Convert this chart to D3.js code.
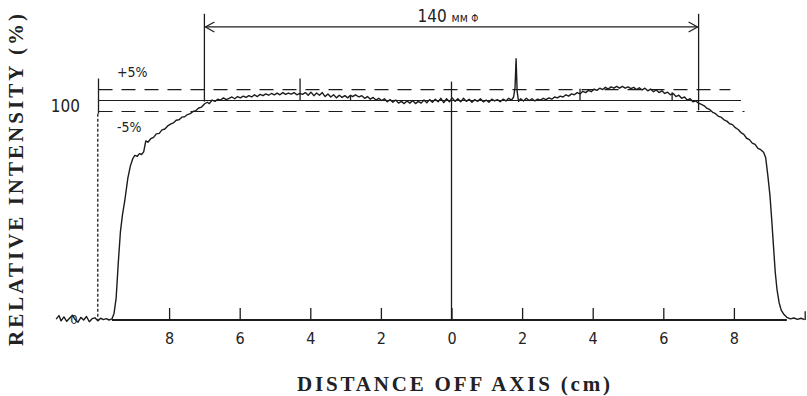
<!DOCTYPE html>
<html>
<head>
<meta charset="utf-8">
<script src="https://cdn.jsdelivr.net/npm/d3@7"></script>
<style>
  html, body { margin: 0; padding: 0; background: #fff; }
  svg { display: block; }
  .num { font-family: "Liberation Sans Narrow", "DejaVu Sans Condensed", "Liberation Sans", sans-serif; fill: #222; }
  .title { font-family: "Liberation Serif", "DejaVu Serif", serif; font-weight: bold; fill: #222; }
</style>
</head>
<body>
<svg id="chart" width="807" height="396"></svg>
<script>
// beam profile: [distance off axis (cm), relative intensity (%)]
const profile = [
  [-11.20, 0.4], [-11.12, 2.0], [-11.06, -0.4], [-10.98, 1.4], [-10.90, -0.6], [-10.82, 0.8],
  [-10.74, 2.2], [-10.66, 0.2], [-10.58, -1.0], [-10.50, 1.2], [-10.42, 0.0], [-10.34, 1.6],
  [-10.26, -0.8], [-10.18, 0.6], [-10.10, 1.0], [-10.02, -0.4], [-9.94, 0.8], [-9.86, 0.2],
  [-9.78, 0.6], [-9.70, 0.0], [-9.62, 0.5],
  [-9.56, 3], [-9.50, 10], [-9.44, 26], [-9.38, 40], [-9.32, 48], [-9.25, 55], [-9.17, 64.5],
  [-9.10, 70], [-9.03, 73.5], [-8.97, 75], [-8.90, 74.6], [-8.84, 75.8], [-8.78, 75.4],
  [-8.72, 76.6], [-8.66, 81.6], [-8.60, 81], [-8.52, 82.6], [-8.44, 83.2], [-8.36, 84.8],
  [-8.28, 85], [-8.20, 86.6], [-8.12, 87], [-8.04, 88.4], [-7.96, 89.2], [-7.88, 89.8],
  [-7.80, 91], [-7.72, 91.2], [-7.64, 92.4], [-7.56, 92.6], [-7.48, 93.6], [-7.40, 94],
  [-7.32, 95], [-7.24, 95.4], [-7.16, 96.6], [-7.08, 97], [-7.00, 98.4], [-6.92, 99.2],
  [-6.86, 98.6], [-6.78, 100.2], [-6.70, 99.6], [-6.62, 100.6], [-6.54, 100.2], [-6.46, 101.2],
  [-6.38, 100.4], [-6.30, 101], [-6.22, 101.6], [-6.14, 100.8], [-6.06, 101.8], [-5.98, 101.2],
  [-5.90, 102], [-5.82, 101.4], [-5.74, 102.2], [-5.66, 101.6], [-5.58, 102.6], [-5.50, 101.8],
  [-5.42, 102.8], [-5.34, 102.2], [-5.26, 103], [-5.18, 102.4], [-5.10, 103.2], [-5.02, 102.6],
  [-4.94, 103.4], [-4.86, 102.6], [-4.78, 103.6], [-4.70, 102.8], [-4.62, 103.4], [-4.54, 102.9],
  [-4.46, 103.6], [-4.38, 102.6], [-4.30, 103.2], [-4.22, 102.8], [-4.14, 103.6], [-4.06, 102.4],
  [-3.98, 103.8], [-3.90, 102.2], [-3.82, 103.4], [-3.74, 102.4], [-3.66, 103.6], [-3.58, 101.8],
  [-3.50, 103], [-3.42, 101.6], [-3.34, 102.6], [-3.26, 101.2], [-3.18, 102.4], [-3.10, 101.4],
  [-3.02, 102.2], [-2.94, 101.2], [-2.86, 102.4], [-2.80, 101.8], [-2.72, 102.6], [-2.62, 101.6],
  [-2.54, 102.2], [-2.46, 101], [-2.38, 101.8], [-2.30, 100.6], [-2.22, 101.4], [-2.14, 100.2],
  [-2.06, 101], [-1.98, 100], [-1.90, 100.8], [-1.82, 99.4], [-1.74, 100.4], [-1.66, 99.2],
  [-1.58, 100.2], [-1.50, 98.8], [-1.42, 99.6], [-1.34, 98.6], [-1.26, 99.8], [-1.18, 98.8],
  [-1.10, 100], [-1.02, 98.6], [-0.94, 99.6], [-0.86, 98.8], [-0.78, 100.2], [-0.70, 99],
  [-0.62, 100.4], [-0.54, 99.2], [-0.46, 100.6], [-0.38, 99.4], [-0.30, 101], [-0.22, 99],
  [-0.14, 100.8], [-0.06, 99.4], [0.02, 101.2], [0.10, 99.6], [0.18, 100.8], [0.26, 99.4],
  [0.34, 101], [0.42, 99.6], [0.50, 100.6], [0.58, 99.2], [0.66, 100.4], [0.74, 99.6],
  [0.82, 100.8], [0.90, 99.4], [0.98, 100.2], [1.06, 99.2], [1.14, 100.6], [1.22, 99.8],
  [1.30, 100.4], [1.38, 99.4], [1.46, 100.6], [1.54, 99.8], [1.62, 101], [1.70, 100.2],
  [1.76, 101.6], [1.80, 106], [1.83, 119], [1.86, 104], [1.90, 99.6], [1.96, 100.8],
  [2.04, 99.8], [2.12, 101], [2.20, 100], [2.28, 100.8], [2.36, 99.8], [2.44, 100.6],
  [2.52, 100.2], [2.60, 101], [2.68, 100.4], [2.76, 101.2], [2.84, 100.6], [2.92, 101.6],
  [3.00, 101.2], [3.08, 102], [3.16, 101.6], [3.24, 102.6], [3.32, 102], [3.40, 103],
  [3.48, 102.6], [3.56, 103.6], [3.64, 103], [3.72, 104.2], [3.80, 103.6], [3.88, 104.6],
  [3.96, 104], [4.04, 105.2], [4.12, 104.6], [4.20, 105.6], [4.28, 105], [4.36, 106],
  [4.44, 105.2], [4.52, 106.2], [4.60, 105.6], [4.68, 106.4], [4.76, 105.6], [4.84, 106.4],
  [4.92, 105.6], [5.00, 106.2], [5.08, 105.4], [5.16, 106], [5.24, 105], [5.32, 105.8],
  [5.40, 104.8], [5.48, 105.6], [5.56, 104.4], [5.64, 105.2], [5.72, 104], [5.80, 104.8],
  [5.88, 103.6], [5.96, 104.4], [6.04, 103.2], [6.12, 103.8], [6.20, 102.6], [6.28, 103.2],
  [6.36, 101.8], [6.44, 102.4], [6.52, 101], [6.60, 101.6], [6.68, 100.2], [6.76, 100.8],
  [6.84, 99.4], [6.92, 99.8], [7.00, 98.8], [7.08, 98.2], [7.16, 97.6], [7.24, 96.4],
  [7.32, 95.8], [7.40, 94.6], [7.48, 94], [7.56, 92.8], [7.64, 92.4], [7.72, 91.2],
  [7.80, 90.6], [7.88, 89.4], [7.96, 89], [8.04, 87.6], [8.12, 86.8], [8.20, 85.4],
  [8.28, 84.6], [8.36, 82.8], [8.44, 82.2], [8.52, 80.6], [8.60, 80], [8.68, 78.2],
  [8.76, 77.6], [8.84, 76.4], [8.90, 74], [8.96, 66], [9.02, 57], [9.07, 46], [9.12, 34],
  [9.17, 22], [9.22, 14], [9.28, 8], [9.34, 4.5], [9.42, 2.5], [9.50, 1.2], [9.60, 0.5],
  [9.70, 0.9], [9.80, 0.3], [9.90, 0.8], [10.0, 0.2]
];

// recorder marks standing up from the 100 % line: [cm, from %, to %]
const markers = [[-4.29, 100, 110], [-2.86, 100, 102.4], [3.64, 100, 105.3], [6.25, 100, 103.8], [10.02, 0, 4]];

const tickCm = [-8, -6, -4, -2, 0, 2, 4, 6, 8];
const tickLabels = ['8', '6', '4', '2', '0', '2', '4', '6', '8'];

const refLevel = 100;
const tolLevels = [105, 95];
const tolLabels = ['+5%', '-5%'];
const fieldEdges = [-7, 7];          // 140 mm field
const fieldLabel = '140';

const svg = d3.select('#chart');
const ink = '#1c1c1c';

const x = d3.scaleLinear().domain([-10, 10]).range([98.5, 804.5]);
const y = d3.scaleLinear().domain([0, 100]).range([320, 100.5]);

// reference lines
svg.append('line')
  .attr('x1', x(-10)).attr('x2', x(8.2))
  .attr('y1', y(refLevel)).attr('y2', y(refLevel))
  .attr('stroke', ink).attr('stroke-width', 1.2);

svg.selectAll('.tol')
  .data(tolLevels)
  .enter()
  .append('line')
  .attr('class', 'tol')
  .attr('x1', x(-10))
  .attr('x2', (d, i) => x(i === 0 ? 7.9 : 8.3))
  .attr('y1', d => y(d)).attr('y2', d => y(d))
  .attr('stroke', ink).attr('stroke-width', 1.2)
  .attr('stroke-dasharray', '14,9');

// left edge line: solid at top, dotted below
svg.append('line')
  .attr('x1', x(-10)).attr('x2', x(-10))
  .attr('y1', y(110)).attr('y2', y(94))
  .attr('stroke', ink).attr('stroke-width', 1.3);
svg.append('line')
  .attr('x1', x(-10.02)).attr('x2', x(-10.02))
  .attr('y1', y(94)).attr('y2', y(0))
  .attr('stroke', ink).attr('stroke-width', 1.3)
  .attr('stroke-dasharray', '3,2');

// centre line
svg.append('line')
  .attr('x1', x(0)).attr('x2', x(0))
  .attr('y1', y(108.6)).attr('y2', y(0))
  .attr('stroke', ink).attr('stroke-width', 1.3);

// x axis
const axis = svg.append('g')
  .attr('transform', `translate(0, ${y(0)})`)
  .call(d3.axisBottom(x)
    .tickValues(tickCm)
    .tickSize(-12)
    .tickPadding(13)
    .tickFormat((d, i) => tickLabels[i]));
axis.select('.domain').remove();
axis.selectAll('.tick line').attr('stroke', ink).attr('stroke-width', 1.3);
axis.selectAll('.tick text')
  .attr('class', 'num')
  .attr('font-size', 16)
  .attr('font-family', null)
  .attr('fill', ink);

svg.append('line')
  .attr('x1', x(-9.62)).attr('x2', x(9.5))
  .attr('y1', y(0)).attr('y2', y(0))
  .attr('stroke', ink).attr('stroke-width', 2.2);

// profile trace
svg.append('path')
  .datum(profile)
  .attr('fill', 'none')
  .attr('stroke', ink)
  .attr('stroke-width', 1.4)
  .attr('stroke-linejoin', 'round')
  .attr('d', d3.line().x(d => x(d[0])).y(d => y(d[1])));

svg.selectAll('.mark')
  .data(markers)
  .enter()
  .append('line')
  .attr('class', 'mark')
  .attr('x1', d => x(d[0])).attr('x2', d => x(d[0]))
  .attr('y1', d => y(d[1])).attr('y2', d => y(d[2]))
  .attr('stroke', ink).attr('stroke-width', 1.3);

// 140 mm field bracket
svg.append('defs').append('marker')
  .attr('id', 'arrow')
  .attr('viewBox', '-10 -6 12 12')
  .attr('refX', 0).attr('refY', 0)
  .attr('markerWidth', 12).attr('markerHeight', 12)
  .attr('markerUnits', 'userSpaceOnUse')
  .attr('orient', 'auto-start-reverse')
  .append('path')
  .attr('d', 'M-9,-5 L0,0 L-9,5')
  .attr('fill', 'none')
  .attr('stroke', ink)
  .attr('stroke-width', 1.2);

svg.selectAll('.edge')
  .data(fieldEdges)
  .enter()
  .append('line')
  .attr('class', 'edge')
  .attr('x1', d => x(d)).attr('x2', d => x(d))
  .attr('y1', y(139.5))
  .attr('y2', (d, i) => y(i === 0 ? 99.5 : 95.5))
  .attr('stroke', ink).attr('stroke-width', 1.3);

svg.append('line')
  .attr('x1', x(fieldEdges[0]) + 1).attr('x2', x(fieldEdges[1]) - 1)
  .attr('y1', y(133.5)).attr('y2', y(133.5))
  .attr('stroke', ink).attr('stroke-width', 1.2)
  .attr('marker-start', 'url(#arrow)')
  .attr('marker-end', 'url(#arrow)');

const fl = svg.append('text')
  .attr('class', 'num')
  .attr('x', x(-0.1)).attr('y', 22)
  .attr('text-anchor', 'middle')
  .attr('font-size', 17);
fl.append('tspan').text(fieldLabel + ' ');
fl.append('tspan').attr('font-size', 12).text('мм ');
fl.append('tspan').attr('font-size', 10).text('Φ');

// level labels
svg.append('text')
  .attr('class', 'num')
  .attr('x', 80).attr('y', 112)
  .attr('text-anchor', 'end')
  .attr('font-size', 17)
  .text(String(refLevel));

svg.selectAll('.tolLabel')
  .data(tolLabels)
  .enter()
  .append('text')
  .attr('class', 'num tolLabel')
  .attr('x', 117)
  .attr('y', (d, i) => i === 0 ? 77 : 132)
  .attr('font-size', 14)
  .text(d => d);

svg.append('text')
  .attr('class', 'num')
  .attr('x', 74).attr('y', 324)
  .attr('text-anchor', 'middle')
  .attr('font-size', 13)
  .text('0');

// axis titles
svg.append('text')
  .attr('class', 'title')
  .attr('x', 297).attr('y', 391)
  .attr('font-size', 21)
  .attr('textLength', 313)
  .attr('lengthAdjust', 'spacing')
  .text('DISTANCE OFF AXIS (cm)');

svg.append('text')
  .attr('class', 'title')
  .attr('transform', 'translate(23, 346) rotate(-90)')
  .attr('font-size', 21)
  .attr('textLength', 332)
  .attr('lengthAdjust', 'spacing')
  .text('RELATIVE INTENSITY (%)');
</script>
</body>
</html>
